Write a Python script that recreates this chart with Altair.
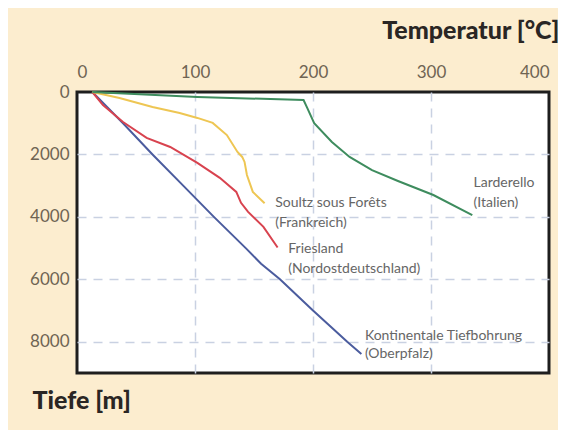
import altair as alt
import pandas as pd

# ---- data ----
ktb_depth = [0, 1000, 2000, 3000, 4000, 5000, 5500, 6000, 7000, 8000, 8390]
ktb_temp = [13, 39, 64, 90, 116, 143, 156, 172, 200, 229, 241]

fries_depth = [0, 420, 960, 1470, 1760, 2270, 2750, 3200, 3550, 3840, 4320, 4980]
fries_temp = [13, 22, 39, 59, 79, 102, 121, 135, 139, 145, 158, 170]

soultz_depth = [0, 190, 480, 670, 830, 990, 1380, 1920, 2080, 2240, 2660, 2980, 3200, 3560]
soultz_temp = [13, 36, 64, 87, 102, 115, 127, 136, 140, 142, 144, 147, 149, 159]

lard_depth = [0, 160, 256, 500, 1000, 1600, 2080, 2500, 2850, 3300, 3940]
lard_temp = [13, 102, 192, 195, 201, 216, 231, 250, 272, 302, 335]

series_names = ["KTB", "Friesland", "Soultz", "Larderello"]
series_colors = ["#4B5C9E", "#D8434F", "#EEC653", "#3E8C5E"]

label_lines = ["Soultz sous Forêts", "(Frankreich)",
               "Friesland", "(Nordostdeutschland)",
               "Larderello", "(Italien)",
               "Kontinentale Tiefbohrung", "(Oberpfalz)"]
label_temp = [168, 168, 179, 179, 336, 336, 244, 244]
label_depth = [3540, 4180, 5040, 5660, 2930, 3570, 7830, 8390]

x_ticks = [0, 100, 200, 300, 400]
y_grid = [0, 1000, 2000, 3000, 4000, 5000, 6000, 7000, 8000, 9000]

# ---- tables ----
rows = []
for name, ds, ts in [("KTB", ktb_depth, ktb_temp),
                     ("Friesland", fries_depth, fries_temp),
                     ("Soultz", soultz_depth, soultz_temp),
                     ("Larderello", lard_depth, lard_temp)]:
    for i, (d, t) in enumerate(zip(ds, ts)):
        rows.append({"Serie": name, "Tiefe": d, "Temperatur": t, "i": i})
df = pd.DataFrame(rows)
lab = pd.DataFrame({"text": label_lines, "Temperatur": label_temp, "Tiefe": label_depth})

FONT = "Lato"
TICK_COLOR = "#6F6453"
GRID = "#C9D1E2"

xscale = alt.Scale(domain=[0, 400], nice=False, zero=False)
yscale = alt.Scale(domain=[0, 9000], reverse=True, nice=False, zero=False)

lines = alt.Chart(df).mark_line(strokeWidth=2).encode(
    x=alt.X("Temperatur:Q", scale=xscale,
            axis=alt.Axis(orient="top", values=x_ticks, ticks=False, tickSize=0,
                          domain=False, labelPadding=11, labelFontSize=17,
                          labelColor=TICK_COLOR, labelFont=FONT,
                          grid=True, gridColor=GRID, gridDash=[9, 7], gridWidth=1.5,
                          gridOpacity={"condition": {"test": "datum.value == 0 || datum.value == 400",
                                                     "value": 0}, "value": 1},
                          title="Temperatur [°C]", titleFont=FONT, titleFontSize=25,
                          titleFontWeight=900, titleColor="#2A2624",
                          titleAnchor="end", titleAlign="right", titleBaseline="alphabetic",
                          titleX=482, titleY=-54)),
    y=alt.Y("Tiefe:Q", scale=yscale,
            axis=alt.Axis(orient="left", values=y_grid, ticks=False, tickSize=0,
                          domain=False, labelPadding=8, labelFontSize=17,
                          labelColor=TICK_COLOR, labelFont=FONT,
                          labelExpr="datum.value % 2000 == 0 ? datum.label : ''",
                          format="d",
                          grid=True, gridColor=GRID, gridDash=[9, 7], gridWidth=1.5,
                          gridOpacity={"condition": {"test": "datum.value == 0 || datum.value == 9000",
                                                     "value": 0}, "value": 1},
                          title="Tiefe [m]", titleFont=FONT, titleFontSize=25,
                          titleFontWeight=900, titleColor="#2A2624",
                          titleAngle=0, titleAlign="left", titleBaseline="alphabetic",
                          titleX=-45, titleY=316)),
    color=alt.Color("Serie:N", scale=alt.Scale(domain=series_names, range=series_colors),
                    legend=None),
    order=alt.Order("i:Q"),
    detail="Serie:N",
)

labels = alt.Chart(lab).mark_text(align="left", baseline="middle", font=FONT,
                                  fontSize=14, color="#666666").encode(
    x=alt.X("Temperatur:Q", scale=xscale),
    y=alt.Y("Tiefe:Q", scale=yscale),
    text="text:N",
)

chart = alt.layer(lines, labels).properties(
    width=472, height=281,
    padding={"left": 69, "top": 84, "right": 9, "bottom": 57},
    autosize=alt.AutoSizeParams(type="none"),
    background="#FCEDCF",
).configure_view(
    fill="#FFFFFF", stroke="#1E1E1E", strokeWidth=3,
)

chart.save("out.html", embed_options={"renderer": "svg", "actions": False})
